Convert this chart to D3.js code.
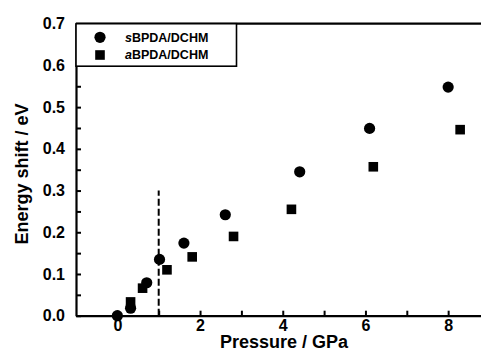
<!DOCTYPE html>
<html>
<head>
    <script src="https://cdn.jsdelivr.net/npm/d3@7/dist/d3.min.js"></script>
</head>
<body style="margin:0">
    <script>
        // data
        var sPressure = [0, 0.32, 0.71, 1.02, 1.61, 2.61, 4.41, 6.1, 8.0];
        var sShift = [0, 0.018, 0.079, 0.135, 0.174, 0.242, 0.345, 0.449, 0.548];
        var aPressure = [0.32, 0.61, 1.2, 1.81, 2.81, 4.21, 6.19, 8.29];
        var aShift = [0.033, 0.066, 0.11, 0.141, 0.19, 0.255, 0.357, 0.446];
        var xTicks = [0, 2, 4, 6, 8];
        var xMinor = [1, 3, 5, 7];
        var yTicks = [0, 0.1, 0.2, 0.3, 0.4, 0.5, 0.6, 0.7];
        var yMinor = [0.05, 0.15, 0.25, 0.35, 0.45, 0.55, 0.65];
        var seriesNames = ["sBPDA/DCHM", "aBPDA/DCHM"];
        var transitionP = 1.0, transitionTop = 0.3;

        var nw = 481, nh = 354;
        var padding = { left: 76, top: 23.7, bottom: 38.3 };
        var font = "'Liberation Sans', Arial, sans-serif";

        var osvg = d3.select("body").append("svg")
            .attr("width", nw)
            .attr("height", nh);

        var xscale = d3.scaleLinear().domain([-1, 9])
            .range([padding.left, padding.left + 10 * 41.35]);
        var yscale = d3.scaleLinear().domain([0, 0.7])
            .range([nh - padding.bottom, padding.top]);

        var x0 = xscale(-1), x1 = xscale(9), y0 = yscale(0), y1 = yscale(0.7);

        // top frame line
        osvg.append("line")
            .attr("x1", x0).attr("x2", x1)
            .attr("y1", y1).attr("y2", y1)
            .attr("stroke", "#000").attr("stroke-width", 2.2);

        // minor ticks
        osvg.append("g")
            .attr("transform", "translate(0," + y0 + ")")
            .call(d3.axisBottom(xscale).tickValues(xMinor).tickSize(-5).tickFormat(""))
            .call(g => g.select(".domain").remove());
        osvg.append("g")
            .attr("transform", "translate(" + x0 + ",0)")
            .call(d3.axisLeft(yscale).tickValues(yMinor).tickSize(-5).tickFormat(""))
            .call(g => g.select(".domain").remove());

        var xaxis = osvg.append("g")
            .attr("transform", "translate(0," + y0 + ")")
            .call(d3.axisBottom(xscale).tickValues(xTicks).tickSize(-5).tickPadding(4).tickSizeOuter(0)
                .tickFormat(d3.format("d")));
        var yaxis = osvg.append("g")
            .attr("transform", "translate(" + x0 + ",0)")
            .call(d3.axisLeft(yscale).tickValues(yTicks).tickSize(-5).tickPadding(11).tickSizeOuter(0)
                .tickFormat(d3.format(".1f")));

        osvg.selectAll(".tick line").attr("stroke", "#000").attr("stroke-width", 2);
        osvg.selectAll(".domain").attr("stroke", "#000").attr("stroke-width", 2.2);
        osvg.selectAll(".tick text")
            .attr("fill", "#000")
            .attr("font-size", 16)
            .attr("font-weight", "bold")
            .attr("font-family", font);

        // dashed marker at the transition pressure
        osvg.append("line")
            .attr("x1", xscale(transitionP)).attr("x2", xscale(transitionP))
            .attr("y1", y0).attr("y2", yscale(transitionTop))
            .attr("stroke", "#000").attr("stroke-width", 2)
            .attr("stroke-dasharray", "7,3");

        // series
        osvg.append("g").selectAll("circle")
            .data(sPressure)
            .enter()
            .append("circle")
            .attr("cx", d => xscale(d))
            .attr("cy", (d, i) => yscale(sShift[i]))
            .attr("r", 5.6)
            .attr("fill", "#000");

        var sq = 9.6;
        osvg.append("g").selectAll("rect")
            .data(aPressure)
            .enter()
            .append("rect")
            .attr("x", d => xscale(d) - sq / 2)
            .attr("y", (d, i) => yscale(aShift[i]) - sq / 2)
            .attr("width", sq)
            .attr("height", sq)
            .attr("fill", "#000");

        // legend
        var lg = osvg.append("g");
        lg.append("rect")
            .attr("x", x0).attr("y", y1)
            .attr("width", 160.5).attr("height", 42.5)
            .attr("fill", "#fff").attr("stroke", "#000").attr("stroke-width", 1.6);
        lg.append("circle").attr("cx", 100).attr("cy", 37.3).attr("r", 5.6).attr("fill", "#000");
        lg.append("rect").attr("x", 100 - sq / 2).attr("y", 55 - sq / 2)
            .attr("width", sq).attr("height", sq).attr("fill", "#000");
        [37.3, 55].forEach((cy, i) => {
            var t = lg.append("text")
                .attr("x", 125).attr("y", cy + 4.3)
                .attr("font-family", font)
                .attr("font-weight", "bold")
                .attr("font-size", 12.5);
            t.append("tspan").attr("font-style", "italic").text(seriesNames[i][0]);
            t.append("tspan").text(seriesNames[i].slice(1));
        });

        // axis titles
        osvg.append("text")
            .attr("x", 284).attr("y", 348)
            .attr("text-anchor", "middle")
            .attr("font-family", font)
            .attr("font-weight", "bold")
            .attr("font-size", 18)
            .text("Pressure / GPa");

        osvg.append("text")
            .attr("transform", "translate(28,174) rotate(-90)")
            .attr("text-anchor", "middle")
            .attr("font-family", font)
            .attr("font-weight", "bold")
            .attr("font-size", 18)
            .text("Energy shift / eV");
    </script>
</body>
</html>
